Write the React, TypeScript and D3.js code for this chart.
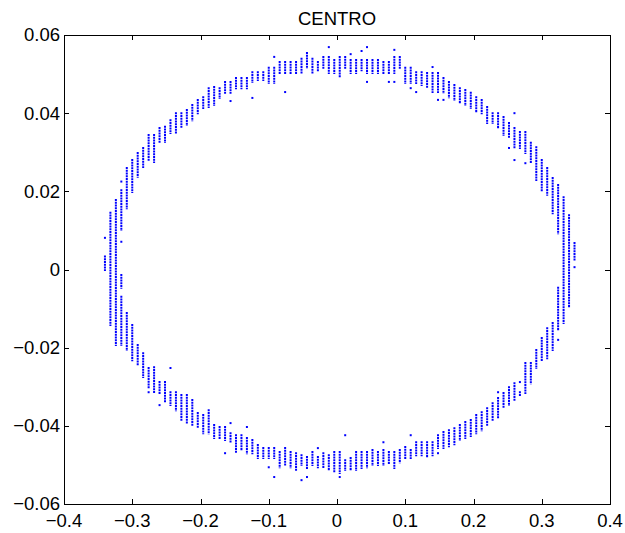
import React from 'react';
import * as d3 from 'd3';

const title = 'CENTRO';
const xTicks = [-0.4, -0.3, -0.2, -0.1, 0, 0.1, 0.2, 0.3, 0.4];
const yTicks = [-0.06, -0.04, -0.02, 0, 0.02, 0.04, 0.06];

// Each run: [x, yHigh, yLow] — a vertical column of quantised samples (y step ≈ 0.0007)
const leftRuns: number[][] = [
  [-0.340, 0.0081, 0.0081],
  [-0.340, 0.0033, -0.0001],
  [-0.332, 0.0145, -0.0142],
  [-0.324, 0.0178, -0.0193],
  [-0.316, 0.0225, 0.0225],
  [-0.316, 0.0203, 0.0101],
  [-0.316, 0.0071, 0.0071],
  [-0.316, -0.0014, -0.0047],
  [-0.316, -0.0070, -0.0193],
];

const topRuns: number[][] = [
  [-0.308, 0.0260, 0.0157], [-0.300, 0.0280, 0.0198], [-0.292, 0.0298, 0.0237],
  [-0.284, 0.0311, 0.0262], [-0.276, 0.0344, 0.0280], [-0.268, 0.0344, 0.0275],
  [-0.260, 0.0362, 0.0326], [-0.252, 0.0365, 0.0326], [-0.244, 0.0382, 0.0349],
  [-0.236, 0.0400, 0.0349], [-0.228, 0.0400, 0.0365], [-0.220, 0.0408, 0.0370],
  [-0.212, 0.0421, 0.0382], [-0.204, 0.0434, 0.0400], [-0.196, 0.0441, 0.0413],
  [-0.188, 0.0464, 0.0416], [-0.180, 0.0467, 0.0421], [-0.172, 0.0464, 0.0439],
  [-0.164, 0.0480, 0.0452], [-0.156, 0.0480, 0.0452], [-0.156, 0.0431, 0.0431],
  [-0.148, 0.0490, 0.0464], [-0.140, 0.0490, 0.0464], [-0.132, 0.0490, 0.0464],
  [-0.124, 0.0505, 0.0480], [-0.124, 0.0439, 0.0439], [-0.116, 0.0505, 0.0485],
  [-0.108, 0.0505, 0.0485], [-0.100, 0.0516, 0.0477], [-0.092, 0.0544, 0.0544],
  [-0.092, 0.0516, 0.0477], [-0.084, 0.0531, 0.0503], [-0.076, 0.0531, 0.0503],
  [-0.076, 0.0454, 0.0454], [-0.068, 0.0531, 0.0503], [-0.060, 0.0531, 0.0503],
  [-0.052, 0.0539, 0.0503], [-0.044, 0.0554, 0.0516], [-0.036, 0.0539, 0.0503],
  [-0.028, 0.0531, 0.0510], [-0.020, 0.0544, 0.0516], [-0.012, 0.0569, 0.0569],
  [-0.012, 0.0544, 0.0503], [-0.004, 0.0536, 0.0503], [0.004, 0.0544, 0.0493],
  [0.012, 0.0544, 0.0516], [0.020, 0.0551, 0.0551], [0.020, 0.0536, 0.0503],
  [0.028, 0.0536, 0.0503], [0.036, 0.0559, 0.0559], [0.036, 0.0536, 0.0510],
  [0.044, 0.0569, 0.0569], [0.044, 0.0536, 0.0503], [0.044, 0.0480, 0.0480],
  [0.052, 0.0536, 0.0503], [0.060, 0.0536, 0.0503], [0.068, 0.0531, 0.0503],
  [0.076, 0.0531, 0.0503], [0.076, 0.0480, 0.0480], [0.084, 0.0562, 0.0562],
  [0.084, 0.0544, 0.0503], [0.084, 0.0480, 0.0480], [0.092, 0.0544, 0.0516],
  [0.100, 0.0516, 0.0477], [0.108, 0.0516, 0.0477], [0.108, 0.0464, 0.0464],
  [0.116, 0.0505, 0.0477], [0.116, 0.0454, 0.0454], [0.124, 0.0505, 0.0472],
  [0.132, 0.0503, 0.0467], [0.140, 0.0518, 0.0518], [0.140, 0.0503, 0.0454],
  [0.148, 0.0503, 0.0454], [0.148, 0.0434, 0.0434], [0.156, 0.0490, 0.0452],
  [0.156, 0.0434, 0.0434], [0.164, 0.0480, 0.0441], [0.172, 0.0472, 0.0434],
  [0.180, 0.0464, 0.0426], [0.188, 0.0459, 0.0421], [0.196, 0.0452, 0.0413],
  [0.204, 0.0441, 0.0403], [0.212, 0.0434, 0.0400], [0.220, 0.0416, 0.0375],
  [0.228, 0.0400, 0.0375], [0.236, 0.0400, 0.0362], [0.244, 0.0390, 0.0344],
  [0.252, 0.0375, 0.0339], [0.252, 0.0311, 0.0311], [0.260, 0.0400, 0.0400],
  [0.260, 0.0362, 0.0311], [0.260, 0.0280, 0.0280], [0.268, 0.0352, 0.0311],
  [0.276, 0.0352, 0.0298], [0.276, 0.0272, 0.0272], [0.284, 0.0324, 0.0275],
  [0.292, 0.0313, 0.0229], [0.300, 0.0280, 0.0203], [0.308, 0.0260, 0.0191],
  [0.316, 0.0234, 0.0144], [0.324, 0.0216, 0.0093],
];

const bottomRuns: number[][] = [
  [-0.308, -0.0111, -0.0206], [-0.300, -0.0142, -0.0232], [-0.292, -0.0193, -0.0244],
  [-0.284, -0.0214, -0.0275], [-0.276, -0.0252, -0.0301], [-0.276, -0.0314, -0.0314],
  [-0.268, -0.0250, -0.0314], [-0.260, -0.0288, -0.0316], [-0.260, -0.0347, -0.0347],
  [-0.252, -0.0288, -0.0339], [-0.244, -0.0252, -0.0252], [-0.244, -0.0314, -0.0347],
  [-0.236, -0.0314, -0.0360], [-0.228, -0.0321, -0.0385], [-0.220, -0.0321, -0.0393],
  [-0.212, -0.0334, -0.0398], [-0.204, -0.0367, -0.0403], [-0.196, -0.0372, -0.0419],
  [-0.188, -0.0360, -0.0419], [-0.180, -0.0398, -0.0431], [-0.172, -0.0403, -0.0431],
  [-0.164, -0.0403, -0.0436], [-0.164, -0.0470, -0.0470], [-0.156, -0.0393, -0.0393],
  [-0.156, -0.0419, -0.0442], [-0.148, -0.0424, -0.0467], [-0.140, -0.0424, -0.0462],
  [-0.132, -0.0403, -0.0403], [-0.132, -0.0431, -0.0470], [-0.124, -0.0436, -0.0470],
  [-0.116, -0.0449, -0.0482], [-0.108, -0.0457, -0.0482], [-0.100, -0.0457, -0.0482],
  [-0.100, -0.0506, -0.0506], [-0.092, -0.0457, -0.0482], [-0.092, -0.0531, -0.0531],
  [-0.084, -0.0467, -0.0506], [-0.076, -0.0457, -0.0500], [-0.068, -0.0467, -0.0506],
  [-0.060, -0.0470, -0.0513], [-0.052, -0.0475, -0.0500], [-0.052, -0.0539, -0.0539],
  [-0.044, -0.0480, -0.0508], [-0.044, -0.0531, -0.0531], [-0.036, -0.0467, -0.0500],
  [-0.028, -0.0457, -0.0457], [-0.028, -0.0480, -0.0506], [-0.020, -0.0470, -0.0506],
  [-0.012, -0.0475, -0.0513], [-0.004, -0.0467, -0.0518], [0.004, -0.0467, -0.0521],
  [0.004, -0.0531, -0.0531], [0.012, -0.0424, -0.0424], [0.012, -0.0488, -0.0513],
  [0.020, -0.0482, -0.0513], [0.028, -0.0467, -0.0513], [0.036, -0.0467, -0.0508],
  [0.044, -0.0467, -0.0506], [0.052, -0.0462, -0.0500], [0.060, -0.0467, -0.0500],
  [0.068, -0.0442, -0.0442], [0.068, -0.0462, -0.0500], [0.076, -0.0467, -0.0495],
  [0.084, -0.0467, -0.0508], [0.092, -0.0462, -0.0493], [0.100, -0.0454, -0.0482],
  [0.108, -0.0424, -0.0424], [0.108, -0.0462, -0.0482], [0.116, -0.0442, -0.0475],
  [0.124, -0.0442, -0.0475], [0.132, -0.0442, -0.0480], [0.140, -0.0442, -0.0475],
  [0.148, -0.0424, -0.0457], [0.148, -0.0470, -0.0470], [0.156, -0.0416, -0.0457],
  [0.164, -0.0411, -0.0452], [0.172, -0.0406, -0.0447], [0.180, -0.0398, -0.0436],
  [0.188, -0.0390, -0.0431], [0.196, -0.0385, -0.0426], [0.204, -0.0372, -0.0419],
  [0.212, -0.0365, -0.0411], [0.220, -0.0355, -0.0398], [0.228, -0.0342, -0.0385],
  [0.236, -0.0314, -0.0314], [0.236, -0.0329, -0.0378], [0.244, -0.0316, -0.0352],
  [0.252, -0.0301, -0.0347], [0.260, -0.0291, -0.0334], [0.268, -0.0288, -0.0288],
  [0.268, -0.0314, -0.0321], [0.276, -0.0239, -0.0316], [0.284, -0.0239, -0.0291],
  [0.292, -0.0206, -0.0252], [0.300, -0.0175, -0.0232], [0.308, -0.0150, -0.0227],
  [0.316, -0.0137, -0.0206], [0.324, -0.0047, -0.0155], [0.324, -0.0180, -0.0180],
];

const rightRuns: number[][] = [
  [0.332, 0.0185, -0.0137],
  [0.340, 0.0139, -0.0096],
  [0.348, 0.0068, 0.0024],
  [0.348, 0.0006, 0.0006],
];

const W = 625;
const H = 533;
const left = 64, right = 610, top = 35, bottom = 504;

const fmt = (v: number) => {
  const s = d3.format('')(+v.toFixed(2));
  return s.replace('-', '\u2212');
};

export default function App() {
  const x = d3.scaleLinear().domain([-0.4, 0.4]).range([left, right]);
  const y = d3.scaleLinear().domain([-0.06, 0.06]).range([bottom, top]);
  const runs = [...leftRuns, ...topRuns, ...bottomRuns, ...rightRuns];
  const font = '"Liberation Sans", Arial, Helvetica, sans-serif';
  const fs = 18.5;
  const tl = 5;
  return (
    <svg width={W} height={H} style={{ position: 'absolute', left: 0, top: 0, background: '#fff' }}>
      <rect x={0} y={0} width={W} height={H} fill="#fff" />
      <g>
        {runs.map((r, i) => (
          <line
            key={i}
            x1={x(r[0])}
            x2={x(r[0])}
            y1={y(r[1]) - 1}
            y2={y(r[2]) + 1}
            stroke="#0000ff"
            strokeWidth={2}
            strokeDasharray="2 0.75"
          />
        ))}
      </g>
      <rect x={left + 0.5} y={top + 0.5} width={right - left} height={bottom - top} fill="none" stroke="#000" strokeWidth={1} />
      {xTicks.map((t, i) => (
        <g key={'x' + i}>
          <line x1={Math.round(x(t)) + 0.5} x2={Math.round(x(t)) + 0.5} y1={bottom} y2={bottom - tl} stroke="#000" />
          <line x1={Math.round(x(t)) + 0.5} x2={Math.round(x(t)) + 0.5} y1={top} y2={top + tl} stroke="#000" />
          <text x={x(t)} y={527} textAnchor="middle" fontFamily={font} fontSize={fs} fill="#000">{fmt(t)}</text>
        </g>
      ))}
      {yTicks.map((t, i) => (
        <g key={'y' + i}>
          <line x1={left} x2={left + tl} y1={Math.round(y(t)) + 0.5} y2={Math.round(y(t)) + 0.5} stroke="#000" />
          <line x1={right} x2={right - tl} y1={Math.round(y(t)) + 0.5} y2={Math.round(y(t)) + 0.5} stroke="#000" />
          <text x={60} y={y(t)} dy="0.35em" textAnchor="end" fontFamily={font} fontSize={fs} fill="#000">{fmt(t)}</text>
        </g>
      ))}
      <text x={(left + right) / 2} y={25} textAnchor="middle" fontFamily={font} fontSize={fs} fill="#000">{title}</text>
    </svg>
  );
}
